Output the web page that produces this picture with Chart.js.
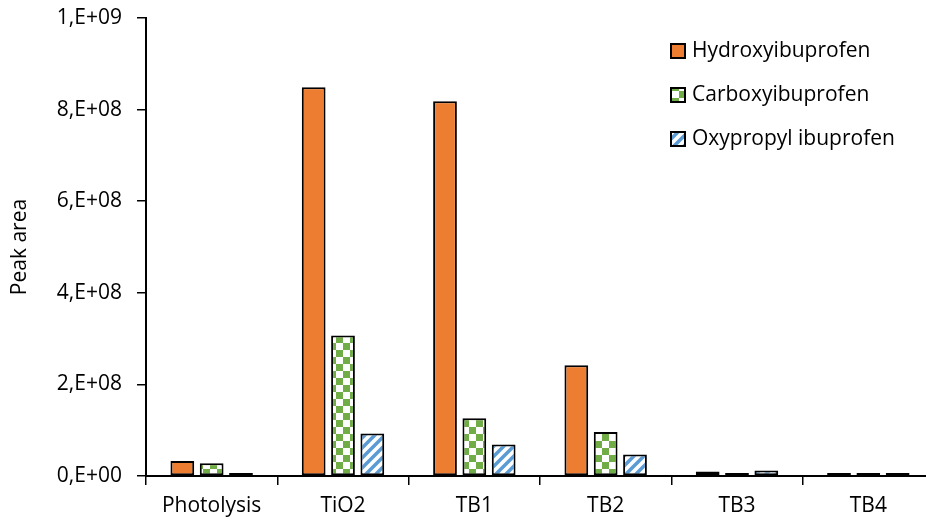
<!DOCTYPE html>
<html>
<head>
<meta charset="utf-8">
<script src="https://cdn.jsdelivr.net/npm/chart.js@4.4.0/dist/chart.umd.min.js"></script>
<style>
  html, body { margin: 0; padding: 0; background: #fff; overflow: hidden; }
  #wrap { width: 940px; height: 523px; }
</style>
</head>
<body>
<div id="wrap"><canvas id="chart"></canvas></div>
<script>
const categories = ["Photolysis", "TiO2", "TB1", "TB2", "TB3", "TB4"];
const seriesNames = ["Hydroxyibuprofen", "Carboxyibuprofen", "Oxypropyl ibuprofen"];
const hydroxy = [3.3e7, 8.49e8, 8.18e8, 2.42e8, 1.0e7, 3e6];
const carboxy = [2.8e7, 3.07e8, 1.26e8, 9.6e7, 5e6, 2e6];
const oxypropyl = [2e6, 9.3e7, 6.9e7, 4.7e7, 1.2e7, 2e6];
const yTicks = [0, 2e8, 4e8, 6e8, 8e8, 1e9];

// patterns for the bar fills
function checkerPattern() {
  const c = document.createElement("canvas");
  c.width = 14; c.height = 14;
  const g = c.getContext("2d");
  g.fillStyle = "#fff"; g.fillRect(0, 0, 14, 14);
  g.fillStyle = "#70AD47";
  g.fillRect(0, 0, 7, 7);
  g.fillRect(7, 7, 7, 7);
  return g.createPattern(c, "repeat");
}

function stripePattern() {
  const s = 10;
  const c = document.createElement("canvas");
  c.width = s; c.height = s;
  const g = c.getContext("2d");
  g.fillStyle = "#fff"; g.fillRect(0, 0, s, s);
  g.strokeStyle = "#5B9BD5";
  g.lineWidth = 3.5;
  g.beginPath();
  g.moveTo(-2, s + 2); g.lineTo(s + 2, -2);
  g.moveTo(-2, 2); g.lineTo(2, -2);
  g.moveTo(s - 2, s + 2); g.lineTo(s + 2, s - 2);
  g.stroke();
  return g.createPattern(c, "repeat");
}

const fills = ["#ED7D31", checkerPattern(), stripePattern()];
const font = "'Open Sans'";
const fontSize = 21;

function fmtSci(v) {
  if (v === 0) return "0,E+00";
  const e = Math.floor(Math.log10(v) + 1e-9);
  const m = Math.round(v / Math.pow(10, e));
  return m + ",E+" + String(e).padStart(2, "0");
}

// legend drawn inside the plot area, top right
const insideLegend = {
  id: "insideLegend",
  afterDraw(chart) {
    const ctx = chart.ctx;
    ctx.save();
    chart.data.datasets.forEach((ds, i) => {
      const y = 51 + i * 44;
      ctx.fillStyle = ds.backgroundColor;
      ctx.fillRect(671, y - 7, 14, 14);
      ctx.strokeStyle = "#000";
      ctx.lineWidth = 2;
      ctx.strokeRect(671, y - 7, 14, 14);
      ctx.fillStyle = "#000";
      ctx.font = fontSize + "px " + font;
      ctx.textBaseline = "middle";
      ctx.fillText(ds.label, 692, y);
    });
    ctx.restore();
  }
};

const data = {
  labels: categories,
  datasets: [hydroxy, carboxy, oxypropyl].map((vals, i) => ({
    label: seriesNames[i],
    data: vals,
    backgroundColor: fills[i],
    borderColor: "#000",
    borderWidth: 2,
    borderSkipped: false,
    minBarLength: 3,
    categoryPercentage: 0.67,
    barPercentage: 0.81
  }))
};

new Chart(document.getElementById("chart"), {
  type: "bar",
  data: data,
  options: {
    responsive: true,
    maintainAspectRatio: false,
    animation: false,
    layout: { padding: { top: 18, right: 6, left: 0, bottom: 0 } },
    plugins: {
      legend: { display: false },
      tooltip: { enabled: false }
    },
    scales: {
      x: {
        grid: { drawOnChartArea: false, drawTicks: true, tickLength: 9, color: "#000", lineWidth: 1.5, offset: true },
        border: { color: "#000", width: 2 },
        ticks: { color: "#000", font: { family: font, size: fontSize }, padding: 8, maxRotation: 0 },
        afterFit(scale) { scale.height = 47; }
      },
      y: {
        min: 0,
        max: 1e9,
        afterBuildTicks(scale) { scale.ticks = yTicks.map(v => ({ value: v })); },
        grid: { drawOnChartArea: false, drawTicks: true, tickLength: 9, color: "#000", lineWidth: 1.5 },
        border: { color: "#000", width: 2 },
        ticks: { color: "#000", font: { family: font, size: fontSize }, padding: 15, callback: v => fmtSci(v) },
        title: { display: true, text: "Peak area", color: "#000", font: { family: font, size: fontSize }, padding: { top: 7, bottom: 0 } },
        afterFit(scale) {
          scale.width = 146;
          // tick padding would otherwise push the plot top down
          scale.paddingTop = 0;
          scale.paddingBottom = 0;
        }
      }
    }
  },
  plugins: [insideLegend]
});
</script>
</body>
</html>
